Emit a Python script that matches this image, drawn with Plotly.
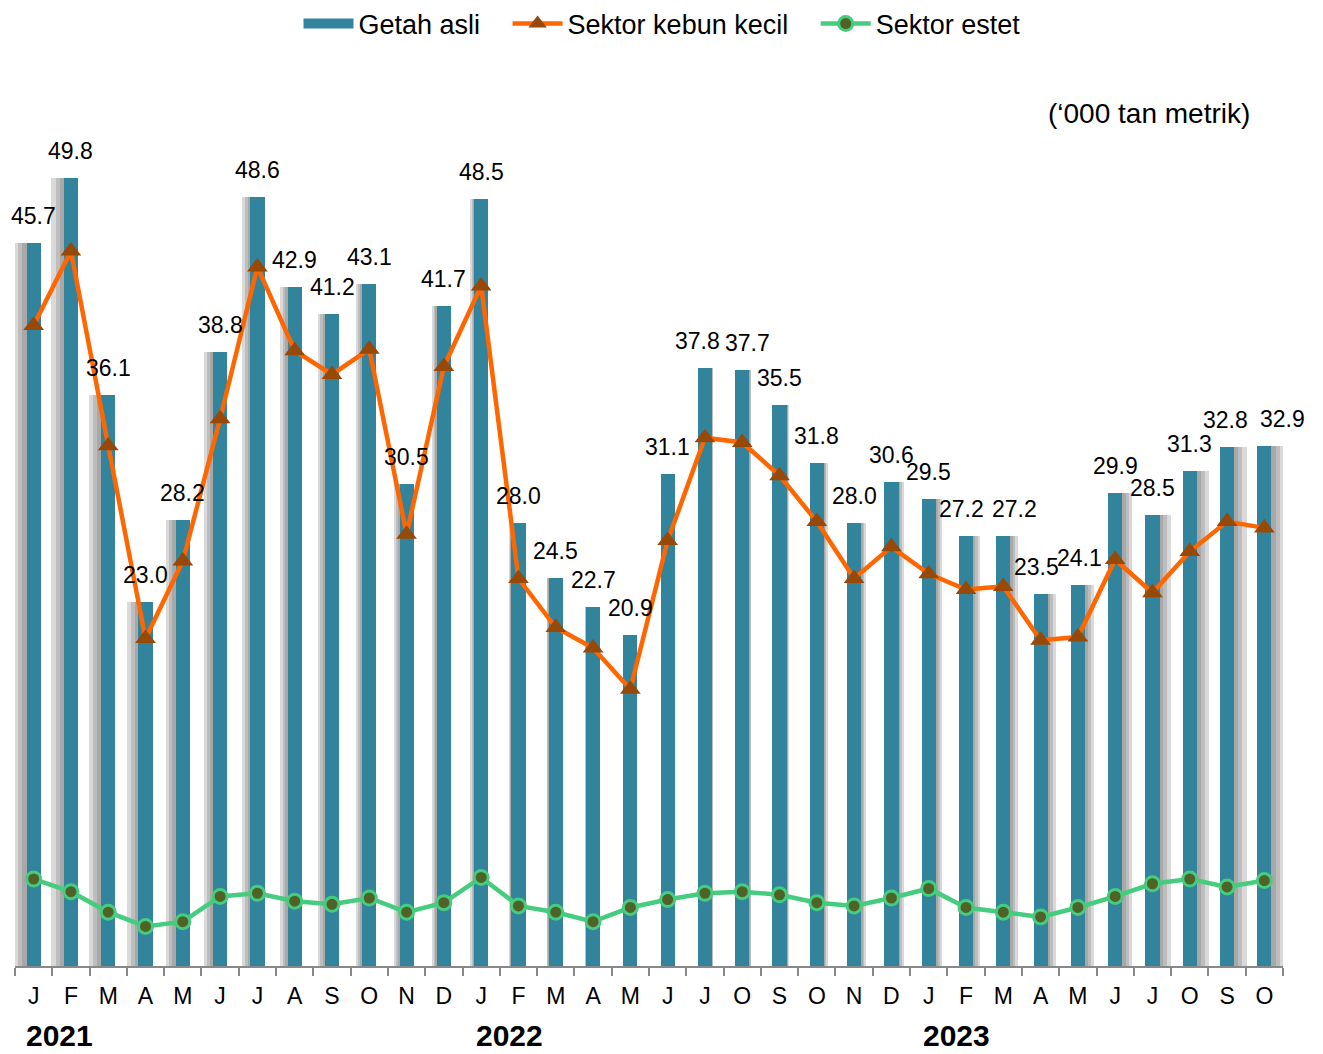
import plotly.graph_objects as go

months = ["J","F","M","A","M","J","J","A","S","O","N","D",
          "J","F","M","A","M","J","J","O","S","O","N","D",
          "J","F","M","A","M","J","J","O","S","O"]
getah_asli = [45.7,49.8,36.1,23.0,28.2,38.8,48.6,42.9,41.2,43.1,30.5,41.7,
              48.5,28.0,24.5,22.7,20.9,31.1,37.8,37.7,35.5,31.8,28.0,30.6,
              29.5,27.2,27.2,23.5,24.1,29.9,28.5,31.3,32.8,32.9]
kebun_kecil = [40.5,45.2,32.9,20.7,25.6,34.6,44.2,38.9,37.4,39.0,27.3,37.9,
               43.0,24.5,21.4,20.1,17.5,26.9,33.4,33.1,31.0,28.1,24.5,26.5,
               24.8,23.8,24.0,20.6,20.8,25.7,23.6,26.2,28.1,27.7]
estet = [5.5,4.7,3.4,2.5,2.8,4.4,4.6,4.1,3.9,4.3,3.4,4.0,
         5.6,3.8,3.4,2.8,3.7,4.2,4.6,4.7,4.5,4.0,3.8,4.3,
         4.9,3.7,3.4,3.1,3.7,4.4,5.2,5.5,5.0,5.4]
years = ["2021","2022","2023"]
year_pos = [0.7, 12.75, 24.75]
# horizontal nudges (px) for a few crowded value labels, keyed by bar index
label_nudge = {18: -7, 19: 5, 25: -5, 26: 11, 27: -4, 28: 2, 32: -2, 33: 18}

n = len(months)
x = list(range(n))
font = "Liberation Sans, Arial, sans-serif"
BW = 0.38
TEAL = "#31849B"

fig = go.Figure()
# perspective shadow layers (spread outward from the centre)
mid = (n - 1) / 2
for f in (1.0, 0.66, 0.33):
    offs = [-BW/2 + 0.36 * f * (i - mid) / mid for i in x]
    fig.add_trace(go.Bar(x=x, y=getah_asli, width=BW, offset=offs,
                         marker=dict(color="rgba(110,110,110,0.26)", line=dict(width=0)),
                         showlegend=False, hoverinfo="skip"))
fig.add_trace(go.Bar(x=x, y=getah_asli, width=BW, offset=-BW/2, name="Getah asli",
                     marker=dict(color=TEAL, line=dict(width=0)),
                     showlegend=False, legendgroup="g"))
# legend proxy for the bar series (wide swatch)
fig.add_trace(go.Scatter(x=[None], y=[None], mode="lines",
                         name="Getah asli\u00a0\u00a0\u00a0",
                         line=dict(color=TEAL, width=14), legendgroup="g"))
fig.add_trace(go.Scatter(x=x, y=kebun_kecil, mode="lines+markers",
                         name="Sektor kebun kecil\u00a0\u00a0\u00a0",
                         line=dict(color="#FF6600", width=4.5),
                         marker=dict(symbol="triangle-up", size=18, color="#984807",
                                     line=dict(width=0))))
fig.add_trace(go.Scatter(x=x, y=estet, mode="lines+markers", name="Sektor estet",
                         line=dict(color="#45CC7E", width=4.5),
                         marker=dict(symbol="circle", size=14, color="#4F6228",
                                     line=dict(width=3, color="#45CC7E"))))

annotations = [dict(text="(\u2018000 tan metrik)", x=(1149-15)/1268, xref="paper",
                    y=1-(114-17)/949, yref="paper", xanchor="center", yanchor="middle",
                    showarrow=False, font=dict(family=font, size=28, color="#000"))]
for i, v in enumerate(getah_asli):
    annotations.append(dict(text=f"{v:.1f}", x=i, y=v, xref="x", yref="y",
                            xanchor="center", yanchor="bottom", yshift=12,
                            xshift=label_nudge.get(i, 0), showarrow=False,
                            font=dict(family=font, size=23, color="#000")))
for yr, p in zip(years, year_pos):
    annotations.append(dict(text=f"<b>{yr}</b>", x=p, xref="x", y=-0.073, yref="paper",
                            xanchor="center", yanchor="middle",
                            showarrow=False, font=dict(family=font, size=30, color="#000")))

fig.update_layout(
    width=1323, height=1054, autosize=False,
    margin=dict(l=15, r=40, t=17, b=88, autoexpand=False),
    plot_bgcolor="white", paper_bgcolor="white",
    barmode="overlay", bargap=0,
    font=dict(family=font, size=20, color="#000"),
    legend=dict(orientation="h", x=0.5 + 13/1268, xanchor="center", y=1 - 7/949,
                yanchor="middle",
                font=dict(family=font, size=27), traceorder="normal",
                itemwidth=50, bgcolor="rgba(0,0,0,0)"),
    annotations=annotations,
    showlegend=True,
)
fig.update_xaxes(range=[-0.5, n-0.5], tickvals=x, ticktext=months,
                 ticks="", showgrid=False, zeroline=False,
                 showline=True, linecolor="#888", linewidth=2,
                 tickfont=dict(family=font, size=23), ticklabelstandoff=8,
                 minor=dict(tick0=-0.5, dtick=1, ticks="outside", ticklen=8,
                            tickcolor="#888", tickwidth=2, showgrid=False))
fig.update_yaxes(range=[0, 60], visible=False, showgrid=False)

fig.write_html("out.html", config={"displayModeBar": False},
               post_script="document.body.style.margin='0';")
